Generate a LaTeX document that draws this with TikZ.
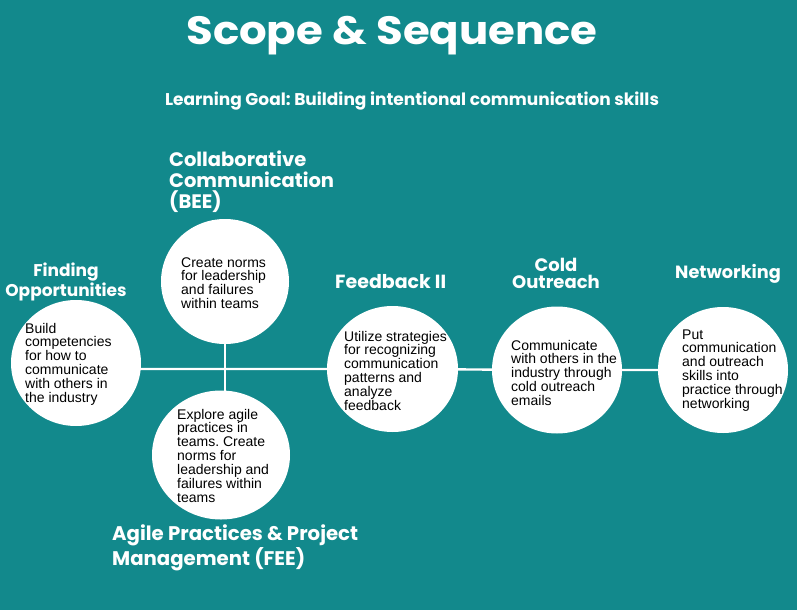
\documentclass[tikz,border=0pt]{standalone}
\usepackage{fontspec}
\usetikzlibrary{shapes.geometric}
\setmainfont{Liberation Sans}
\newfontfamily\headfont{Poppins}
\newfontfamily\titlefont{Poppins}[FakeStretch=1.1]
\definecolor{tealbg}{RGB}{18,137,140}
\pgfdeclarelayer{back}
\pgfdeclarelayer{links}
\pgfsetlayers{back,links,main}
\frenchspacing
\begin{document}
\begin{tikzpicture}[x=1pt,y=-1pt,
  stage/.style 2 args={ellipse, fill=white, draw=none, inner sep=0pt,
    minimum width=#1, minimum height=#2},
  % multi-line nodes sit on the baseline of their last line
  body/.style={anchor=base west, align=left, inner sep=0pt, text=black,
    font=\fontsize{14}{13.9}\selectfont},
  head/.style 2 args={inner sep=0pt, text=white,
    font=\headfont\bfseries\fontsize{#1}{#2}\selectfont},
  link/.style={draw=white, line width=2.4pt}]
\begin{pgfonlayer}{back}
  \fill[tealbg] (0,0) rectangle (797,610);
\end{pgfonlayer}
\useasboundingbox (0,0) rectangle (797,610);

% title block
\node[inner sep=0pt, text=white, font=\titlefont\bfseries\fontsize{39.5}{40}\selectfont,
  anchor=base] (title) at (392,44.5) {Scope \& Sequence};
\node[head={17}{17}, anchor=base] (goal) at (412,105) {Learning Goal: Building intentional communication skills};

% stage circles
\node[stage={130pt}{126pt}] (find) at (76,363) {};
\node[stage={128pt}{125pt}] (bee)  at (225,281.5) {};
\node[stage={138pt}{129pt}] (fee)  at (221,455) {};
\node[stage={131pt}{126pt}] (fb)   at (392.5,369) {};
\node[stage={130pt}{127pt}] (cold) at (557,370) {};
\node[stage={130pt}{126pt}] (net)  at (723,370) {};

% timeline links
\begin{pgfonlayer}{links}
  \draw[link] (find.center |- fb) -- (fb) -- (cold) -- (net);
  \draw[link] (bee) -- (bee |- fee);
\end{pgfonlayer}

% stage headings
\node[head={17}{17}, anchor=base, align=center] (findH) at (66,296) {Finding\\Opportunities};
\node[head={19.5}{21}, anchor=base west, align=left] (beeH) at (169,208) {Collaborative\\Communication\\(BEE)};
\node[head={19}{19}, anchor=base west] (fbH) at (335,288) {Feedback II};
\node[head={18}{17}, anchor=base, align=center] (coldH) at (556,288) {Cold\\Outreach};
\node[head={17.7}{18}, anchor=base west] (netH) at (675,278) {Networking};
\node[head={19.7}{19}, anchor=base west, align=left] (feeH) at (112,565) {Agile Practices \& Project\\Management (FEE)};

% stage descriptions
\node[body] (findT) at (25,402.5) {Build\\competencies\\for how to\\communicate\\with others in\\the industry};
\node[body] (beeT) at (181,308.7) {Create norms\\for leadership\\and failures\\within teams};
\node[body] (feeT) at (177,502.4) {Explore agile\\practices in\\teams. Create\\norms for\\leadership and\\failures within\\teams};
\node[body] (fbT) at (344,410.5) {Utilize strategies\\for recognizing\\communication\\patterns and\\analyze\\feedback};
\node[body] (coldT) at (511,405.6) {Communicate\\with others in the\\industry through\\cold outreach\\emails};
\node[body] (netT) at (682,408.5) {Put\\communication\\and outreach\\skills into\\practice through\\networking};
\end{tikzpicture}
\end{document}
